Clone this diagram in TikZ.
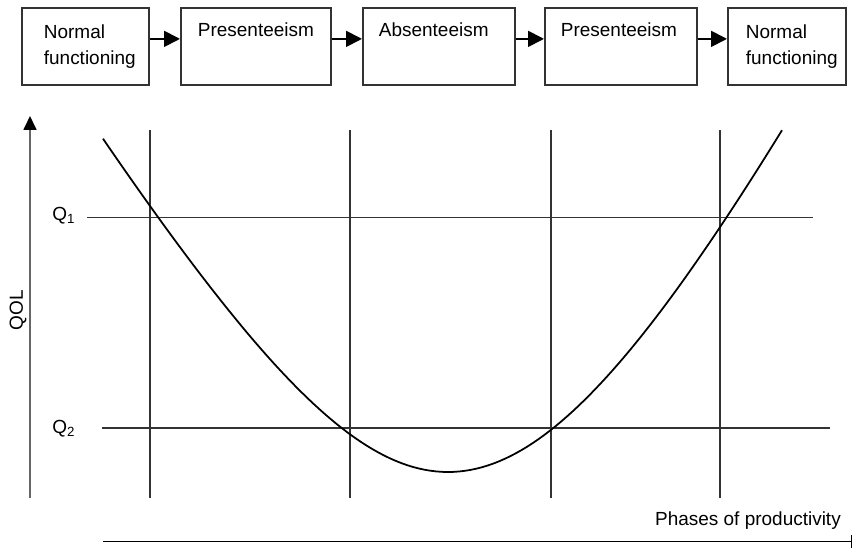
\documentclass[tikz,border=0pt]{standalone}
\usepackage{fontspec}
\setmainfont{Liberation Sans}
\usetikzlibrary{arrows.meta}
\definecolor{boxline}{gray}{0.2}
\definecolor{axisline}{gray}{0.4}

\begin{document}
\begin{tikzpicture}[
        every node/.style={font=\fontsize{10.8}{14.8}\selectfont},
        phasebox/.style={draw=boxline, line width=1pt, anchor=north west, align=left, minimum height=1.54cm, inner xsep=0.34cm, inner ysep=0pt},
        phasearrow/.style={line width=1pt, -{Triangle[length=0.32cm, width=0.32cm]}},
        gridline/.style={draw=boxline, line width=1pt}
    ]
        \useasboundingbox (0,0) rectangle (17.08,10.96);

        \node[phasebox, text width=1.66cm, inner xsep=0.44cm] (normal1) at (0.42,10.82) {Normal\\functioning};
        \node[phasebox, text width=2.32cm] (pres1) at (3.6,10.82) {Presenteeism\\\strut};
        \node[phasebox, text width=2.40cm, inner xsep=0.32cm] (absent) at (7.24,10.82) {Absenteeism\\\strut};
        \node[phasebox, text width=2.40cm, inner xsep=0.32cm] (pres2) at (10.88,10.82) {Presenteeism\\\strut};
        \node[phasebox, text width=1.64cm, inner xsep=0.36cm] (normal2) at (14.54,10.82) {Normal\\functioning};

        \draw[phasearrow] ([yshift=0.15cm]normal1.east) -- ([yshift=0.15cm]pres1.west);
        \draw[phasearrow] ([yshift=0.15cm]pres1.east) -- ([yshift=0.15cm]absent.west);
        \draw[phasearrow] ([yshift=0.15cm]absent.east) -- ([yshift=0.15cm]pres2.west);
        \draw[phasearrow] ([yshift=0.15cm]pres2.east) -- ([yshift=0.15cm]normal2.west);

        \draw[axisline, line width=1pt, -{Triangle[length=0.28cm, width=0.26cm, color=black, fill=black]}] (0.6,1.0) -- (0.6,8.64);
        \node[rotate=90] (qol) at (0.36,4.76) {QOL};

        \node (q1) at (1.28,6.64) {Q\textsubscript{1}};
        \node (q2) at (1.28,2.38) {Q\textsubscript{2}};
        \draw[gridline] (1.74,6.61) -- (16.26,6.61);
        \draw[gridline] (2.04,2.40) -- (16.6,2.40);
        \foreach \x in {3.0,7.0,11.02,14.4}
            \draw[gridline] (\x,8.36) -- (\x,1.0);

        \draw[line width=1pt]
            plot[domain=2.06:8.96, samples=60] (\x, {1.52 + 6.96*(veclen(1,(\x-8.96)/4.10)-1)})
            -- plot[domain=8.96:15.64, samples=60] (\x, {1.52 + 9.64*(veclen(1,(\x-8.96)/4.82)-1)});

        \draw[line width=0.8pt, -{Bar[width=0.25cm]}] (2.06,0.13) -- (17.04,0.13);
        \node[anchor=base east] (phases) at (16.94,0.46) {Phases of productivity};
    \end{tikzpicture}
\end{document}
